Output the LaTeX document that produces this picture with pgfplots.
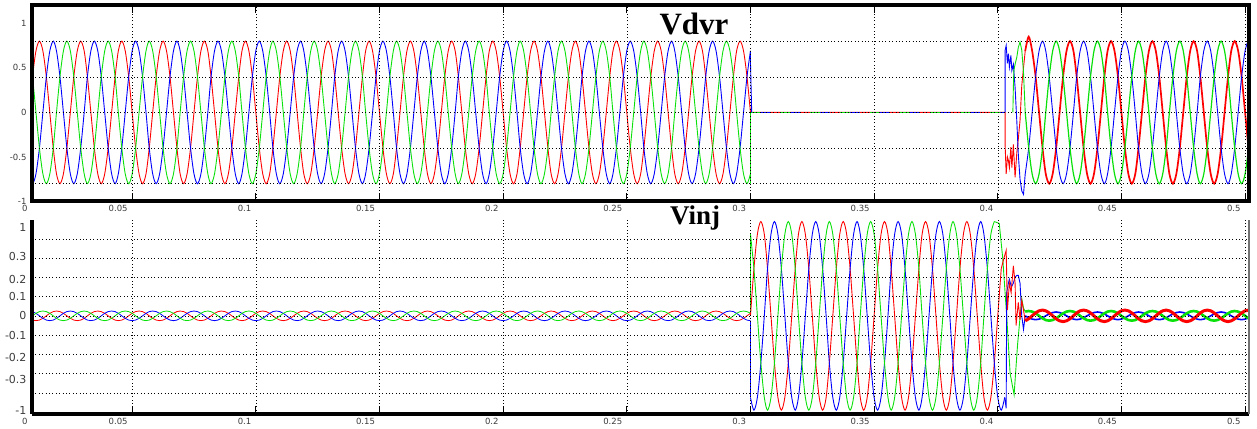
\documentclass[border=0pt]{standalone}
\usepackage{fontspec}
\setmainfont{DejaVu Sans}
\newfontfamily\titlefont{Liberation Serif}
\usepackage{pgfplots}
\pgfplotsset{compat=1.18}
\usepackage{pgfplotstable}

\definecolor{pr}{RGB}{255,0,0}
\definecolor{pb}{RGB}{0,0,255}
\definecolor{pg}{RGB}{10,225,10}
\definecolor{lbl}{RGB}{60,60,60}

% 0 - 0.3 s : Vdvr (r b g) and small Vinj ripple (ri bi gi)
\pgfplotstableread{
t r b g ri bi gi
0.0000 0 0.69 -0.69 0.013 -0.025 0.013
0.0014 -0.4 0.8 -0.4 0.022 -0.022 0
0.0028 -0.69 0.69 0 0.025 -0.013 -0.013
0.0042 -0.8 0.4 0.4 0.022 0 -0.022
0.0056 -0.69 0 0.69 0.013 0.013 -0.025
0.0069 -0.4 -0.4 0.8 0 0.022 -0.022
0.0083 0 -0.69 0.69 -0.013 0.025 -0.013
0.0097 0.4 -0.8 0.4 -0.022 0.022 0
0.0111 0.69 -0.69 0 -0.025 0.013 0.013
0.0125 0.8 -0.4 -0.4 -0.022 0 0.022
0.0139 0.69 0 -0.69 -0.013 -0.013 0.025
0.0153 0.4 0.4 -0.8 0 -0.022 0.022
0.0167 0 0.69 -0.69 0.013 -0.025 0.013
0.0181 -0.4 0.8 -0.4 0.022 -0.022 0
0.0194 -0.69 0.69 0 0.025 -0.013 -0.013
0.0208 -0.8 0.4 0.4 0.022 0 -0.022
0.0222 -0.69 0 0.69 0.013 0.013 -0.025
0.0236 -0.4 -0.4 0.8 0 0.022 -0.022
0.0250 0 -0.69 0.69 -0.013 0.025 -0.013
0.0264 0.4 -0.8 0.4 -0.022 0.022 0
0.0278 0.69 -0.69 0 -0.025 0.013 0.013
0.0292 0.8 -0.4 -0.4 -0.022 0 0.022
0.0306 0.69 0 -0.69 -0.013 -0.013 0.025
0.0319 0.4 0.4 -0.8 0 -0.022 0.022
0.0333 0 0.69 -0.69 0.013 -0.025 0.013
0.0347 -0.4 0.8 -0.4 0.022 -0.022 0
0.0361 -0.69 0.69 0 0.025 -0.013 -0.013
0.0375 -0.8 0.4 0.4 0.022 0 -0.022
0.0389 -0.69 0 0.69 0.013 0.013 -0.025
0.0403 -0.4 -0.4 0.8 0 0.022 -0.022
0.0417 0 -0.69 0.69 -0.013 0.025 -0.013
0.0431 0.4 -0.8 0.4 -0.022 0.022 0
0.0444 0.69 -0.69 0 -0.025 0.013 0.013
0.0458 0.8 -0.4 -0.4 -0.022 0 0.022
0.0472 0.69 0 -0.69 -0.013 -0.013 0.025
0.0486 0.4 0.4 -0.8 0 -0.022 0.022
0.0500 0 0.69 -0.69 0.013 -0.025 0.013
0.0514 -0.4 0.8 -0.4 0.022 -0.022 0
0.0528 -0.69 0.69 0 0.025 -0.013 -0.013
0.0542 -0.8 0.4 0.4 0.022 0 -0.022
0.0556 -0.69 0 0.69 0.013 0.013 -0.025
0.0569 -0.4 -0.4 0.8 0 0.022 -0.022
0.0583 0 -0.69 0.69 -0.013 0.025 -0.013
0.0597 0.4 -0.8 0.4 -0.022 0.022 0
0.0611 0.69 -0.69 0 -0.025 0.013 0.013
0.0625 0.8 -0.4 -0.4 -0.022 0 0.022
0.0639 0.69 0 -0.69 -0.013 -0.013 0.025
0.0653 0.4 0.4 -0.8 0 -0.022 0.022
0.0667 0 0.69 -0.69 0.013 -0.025 0.013
0.0681 -0.4 0.8 -0.4 0.022 -0.022 0
0.0694 -0.69 0.69 0 0.025 -0.013 -0.013
0.0708 -0.8 0.4 0.4 0.022 0 -0.022
0.0722 -0.69 0 0.69 0.013 0.013 -0.025
0.0736 -0.4 -0.4 0.8 0 0.022 -0.022
0.0750 0 -0.69 0.69 -0.013 0.025 -0.013
0.0764 0.4 -0.8 0.4 -0.022 0.022 0
0.0778 0.69 -0.69 0 -0.025 0.013 0.013
0.0792 0.8 -0.4 -0.4 -0.022 0 0.022
0.0806 0.69 0 -0.69 -0.013 -0.013 0.025
0.0819 0.4 0.4 -0.8 0 -0.022 0.022
0.0833 0 0.69 -0.69 0.013 -0.025 0.013
0.0847 -0.4 0.8 -0.4 0.022 -0.022 0
0.0861 -0.69 0.69 0 0.025 -0.013 -0.013
0.0875 -0.8 0.4 0.4 0.022 0 -0.022
0.0889 -0.69 0 0.69 0.013 0.013 -0.025
0.0903 -0.4 -0.4 0.8 0 0.022 -0.022
0.0917 0 -0.69 0.69 -0.013 0.025 -0.013
0.0931 0.4 -0.8 0.4 -0.022 0.022 0
0.0944 0.69 -0.69 0 -0.025 0.013 0.013
0.0958 0.8 -0.4 -0.4 -0.022 0 0.022
0.0972 0.69 0 -0.69 -0.013 -0.013 0.025
0.0986 0.4 0.4 -0.8 0 -0.022 0.022
0.1000 0 0.69 -0.69 0.013 -0.025 0.013
0.1014 -0.4 0.8 -0.4 0.022 -0.022 0
0.1028 -0.69 0.69 0 0.025 -0.013 -0.013
0.1042 -0.8 0.4 0.4 0.022 0 -0.022
0.1056 -0.69 0 0.69 0.013 0.013 -0.025
0.1069 -0.4 -0.4 0.8 0 0.022 -0.022
0.1083 0 -0.69 0.69 -0.013 0.025 -0.013
0.1097 0.4 -0.8 0.4 -0.022 0.022 0
0.1111 0.69 -0.69 0 -0.025 0.013 0.013
0.1125 0.8 -0.4 -0.4 -0.022 0 0.022
0.1139 0.69 0 -0.69 -0.013 -0.013 0.025
0.1153 0.4 0.4 -0.8 0 -0.022 0.022
0.1167 0 0.69 -0.69 0.013 -0.025 0.013
0.1181 -0.4 0.8 -0.4 0.022 -0.022 0
0.1194 -0.69 0.69 0 0.025 -0.013 -0.013
0.1208 -0.8 0.4 0.4 0.022 0 -0.022
0.1222 -0.69 0 0.69 0.013 0.013 -0.025
0.1236 -0.4 -0.4 0.8 0 0.022 -0.022
0.1250 0 -0.69 0.69 -0.013 0.025 -0.013
0.1264 0.4 -0.8 0.4 -0.022 0.022 0
0.1278 0.69 -0.69 0 -0.025 0.013 0.013
0.1292 0.8 -0.4 -0.4 -0.022 0 0.022
0.1306 0.69 0 -0.69 -0.013 -0.013 0.025
0.1319 0.4 0.4 -0.8 0 -0.022 0.022
0.1333 0 0.69 -0.69 0.013 -0.025 0.013
0.1347 -0.4 0.8 -0.4 0.022 -0.022 0
0.1361 -0.69 0.69 0 0.025 -0.013 -0.013
0.1375 -0.8 0.4 0.4 0.022 0 -0.022
0.1389 -0.69 0 0.69 0.013 0.013 -0.025
0.1403 -0.4 -0.4 0.8 0 0.022 -0.022
0.1417 0 -0.69 0.69 -0.013 0.025 -0.013
0.1431 0.4 -0.8 0.4 -0.022 0.022 0
0.1444 0.69 -0.69 0 -0.025 0.013 0.013
0.1458 0.8 -0.4 -0.4 -0.022 0 0.022
0.1472 0.69 0 -0.69 -0.013 -0.013 0.025
0.1486 0.4 0.4 -0.8 0 -0.022 0.022
0.1500 0 0.69 -0.69 0.013 -0.025 0.013
0.1514 -0.4 0.8 -0.4 0.022 -0.022 0
0.1528 -0.69 0.69 0 0.025 -0.013 -0.013
0.1542 -0.8 0.4 0.4 0.022 0 -0.022
0.1556 -0.69 0 0.69 0.013 0.013 -0.025
0.1569 -0.4 -0.4 0.8 0 0.022 -0.022
0.1583 0 -0.69 0.69 -0.013 0.025 -0.013
0.1597 0.4 -0.8 0.4 -0.022 0.022 0
0.1611 0.69 -0.69 0 -0.025 0.013 0.013
0.1625 0.8 -0.4 -0.4 -0.022 0 0.022
0.1639 0.69 0 -0.69 -0.013 -0.013 0.025
0.1653 0.4 0.4 -0.8 0 -0.022 0.022
0.1667 0 0.69 -0.69 0.013 -0.025 0.013
0.1681 -0.4 0.8 -0.4 0.022 -0.022 0
0.1694 -0.69 0.69 0 0.025 -0.013 -0.013
0.1708 -0.8 0.4 0.4 0.022 0 -0.022
0.1722 -0.69 0 0.69 0.013 0.013 -0.025
0.1736 -0.4 -0.4 0.8 0 0.022 -0.022
0.1750 0 -0.69 0.69 -0.013 0.025 -0.013
0.1764 0.4 -0.8 0.4 -0.022 0.022 0
0.1778 0.69 -0.69 0 -0.025 0.013 0.013
0.1792 0.8 -0.4 -0.4 -0.022 0 0.022
0.1806 0.69 0 -0.69 -0.013 -0.013 0.025
0.1819 0.4 0.4 -0.8 0 -0.022 0.022
0.1833 0 0.69 -0.69 0.013 -0.025 0.013
0.1847 -0.4 0.8 -0.4 0.022 -0.022 0
0.1861 -0.69 0.69 0 0.025 -0.013 -0.013
0.1875 -0.8 0.4 0.4 0.022 0 -0.022
0.1889 -0.69 0 0.69 0.013 0.013 -0.025
0.1903 -0.4 -0.4 0.8 0 0.022 -0.022
0.1917 0 -0.69 0.69 -0.013 0.025 -0.013
0.1931 0.4 -0.8 0.4 -0.022 0.022 0
0.1944 0.69 -0.69 0 -0.025 0.013 0.013
0.1958 0.8 -0.4 -0.4 -0.022 0 0.022
0.1972 0.69 0 -0.69 -0.013 -0.013 0.025
0.1986 0.4 0.4 -0.8 0 -0.022 0.022
0.2000 0 0.69 -0.69 0.013 -0.025 0.013
0.2014 -0.4 0.8 -0.4 0.022 -0.022 0
0.2028 -0.69 0.69 0 0.025 -0.013 -0.013
0.2042 -0.8 0.4 0.4 0.022 0 -0.022
0.2056 -0.69 0 0.69 0.013 0.013 -0.025
0.2069 -0.4 -0.4 0.8 0 0.022 -0.022
0.2083 0 -0.69 0.69 -0.013 0.025 -0.013
0.2097 0.4 -0.8 0.4 -0.022 0.022 0
0.2111 0.69 -0.69 0 -0.025 0.013 0.013
0.2125 0.8 -0.4 -0.4 -0.022 0 0.022
0.2139 0.69 0 -0.69 -0.013 -0.013 0.025
0.2153 0.4 0.4 -0.8 0 -0.022 0.022
0.2167 0 0.69 -0.69 0.013 -0.025 0.013
0.2181 -0.4 0.8 -0.4 0.022 -0.022 0
0.2194 -0.69 0.69 0 0.025 -0.013 -0.013
0.2208 -0.8 0.4 0.4 0.022 0 -0.022
0.2222 -0.69 0 0.69 0.013 0.013 -0.025
0.2236 -0.4 -0.4 0.8 0 0.022 -0.022
0.2250 0 -0.69 0.69 -0.013 0.025 -0.013
0.2264 0.4 -0.8 0.4 -0.022 0.022 0
0.2278 0.69 -0.69 0 -0.025 0.013 0.013
0.2292 0.8 -0.4 -0.4 -0.022 0 0.022
0.2306 0.69 0 -0.69 -0.013 -0.013 0.025
0.2319 0.4 0.4 -0.8 0 -0.022 0.022
0.2333 0 0.69 -0.69 0.013 -0.025 0.013
0.2347 -0.4 0.8 -0.4 0.022 -0.022 0
0.2361 -0.69 0.69 0 0.025 -0.013 -0.013
0.2375 -0.8 0.4 0.4 0.022 0 -0.022
0.2389 -0.69 0 0.69 0.013 0.013 -0.025
0.2403 -0.4 -0.4 0.8 0 0.022 -0.022
0.2417 0 -0.69 0.69 -0.013 0.025 -0.013
0.2431 0.4 -0.8 0.4 -0.022 0.022 0
0.2444 0.69 -0.69 0 -0.025 0.013 0.013
0.2458 0.8 -0.4 -0.4 -0.022 0 0.022
0.2472 0.69 0 -0.69 -0.013 -0.013 0.025
0.2486 0.4 0.4 -0.8 0 -0.022 0.022
0.2500 0 0.69 -0.69 0.013 -0.025 0.013
0.2514 -0.4 0.8 -0.4 0.022 -0.022 0
0.2528 -0.69 0.69 0 0.025 -0.013 -0.013
0.2542 -0.8 0.4 0.4 0.022 0 -0.022
0.2556 -0.69 0 0.69 0.013 0.013 -0.025
0.2569 -0.4 -0.4 0.8 0 0.022 -0.022
0.2583 0 -0.69 0.69 -0.013 0.025 -0.013
0.2597 0.4 -0.8 0.4 -0.022 0.022 0
0.2611 0.69 -0.69 0 -0.025 0.013 0.013
0.2625 0.8 -0.4 -0.4 -0.022 0 0.022
0.2639 0.69 0 -0.69 -0.013 -0.013 0.025
0.2653 0.4 0.4 -0.8 0 -0.022 0.022
0.2667 0 0.69 -0.69 0.013 -0.025 0.013
0.2681 -0.4 0.8 -0.4 0.022 -0.022 0
0.2694 -0.69 0.69 0 0.025 -0.013 -0.013
0.2708 -0.8 0.4 0.4 0.022 0 -0.022
0.2722 -0.69 0 0.69 0.013 0.013 -0.025
0.2736 -0.4 -0.4 0.8 0 0.022 -0.022
0.2750 0 -0.69 0.69 -0.013 0.025 -0.013
0.2764 0.4 -0.8 0.4 -0.022 0.022 0
0.2778 0.69 -0.69 0 -0.025 0.013 0.013
0.2792 0.8 -0.4 -0.4 -0.022 0 0.022
0.2806 0.69 0 -0.69 -0.013 -0.013 0.025
0.2819 0.4 0.4 -0.8 0 -0.022 0.022
0.2833 0 0.69 -0.69 0.013 -0.025 0.013
0.2847 -0.4 0.8 -0.4 0.022 -0.022 0
0.2861 -0.69 0.69 0 0.025 -0.013 -0.013
0.2875 -0.8 0.4 0.4 0.022 0 -0.022
0.2889 -0.69 0 0.69 0.013 0.013 -0.025
0.2903 -0.4 -0.4 0.8 0 0.022 -0.022
0.2917 0 -0.69 0.69 -0.013 0.025 -0.013
0.2931 0.4 -0.8 0.4 -0.022 0.022 0
0.2944 0.69 -0.69 0 -0.025 0.013 0.013
0.2958 0.8 -0.4 -0.4 -0.022 0 0.022
0.2972 0.69 0 -0.69 -0.013 -0.013 0.025
0.2986 0.4 0.4 -0.8 0 -0.022 0.022
0.3000 0 0.69 -0.69 0.013 -0.025 0.013
}\tabA

% 0.3 - 0.403 s : injected voltage
\pgfplotstableread{
t r b g
0.3000 0 -0.424 0.424
0.3014 0.245 -0.49 0.245
0.3028 0.424 -0.424 0
0.3042 0.49 -0.245 -0.245
0.3056 0.424 0 -0.424
0.3069 0.245 0.245 -0.49
0.3083 0 0.424 -0.424
0.3097 -0.245 0.49 -0.245
0.3111 -0.424 0.424 0
0.3125 -0.49 0.245 0.245
0.3139 -0.424 0 0.424
0.3153 -0.245 -0.245 0.49
0.3167 0 -0.424 0.424
0.3181 0.245 -0.49 0.245
0.3194 0.424 -0.424 0
0.3208 0.49 -0.245 -0.245
0.3222 0.424 0 -0.424
0.3236 0.245 0.245 -0.49
0.3250 0 0.424 -0.424
0.3264 -0.245 0.49 -0.245
0.3278 -0.424 0.424 0
0.3292 -0.49 0.245 0.245
0.3306 -0.424 0 0.424
0.3319 -0.245 -0.245 0.49
0.3333 0 -0.424 0.424
0.3347 0.245 -0.49 0.245
0.3361 0.424 -0.424 0
0.3375 0.49 -0.245 -0.245
0.3389 0.424 0 -0.424
0.3403 0.245 0.245 -0.49
0.3417 0 0.424 -0.424
0.3431 -0.245 0.49 -0.245
0.3444 -0.424 0.424 0
0.3458 -0.49 0.245 0.245
0.3472 -0.424 0 0.424
0.3486 -0.245 -0.245 0.49
0.3500 0 -0.424 0.424
0.3514 0.245 -0.49 0.245
0.3528 0.424 -0.424 0
0.3542 0.49 -0.245 -0.245
0.3556 0.424 0 -0.424
0.3569 0.245 0.245 -0.49
0.3583 0 0.424 -0.424
0.3597 -0.245 0.49 -0.245
0.3611 -0.424 0.424 0
0.3625 -0.49 0.245 0.245
0.3639 -0.424 0 0.424
0.3653 -0.245 -0.245 0.49
0.3667 0 -0.424 0.424
0.3681 0.245 -0.49 0.245
0.3694 0.424 -0.424 0
0.3708 0.49 -0.245 -0.245
0.3722 0.424 0 -0.424
0.3736 0.245 0.245 -0.49
0.3750 0 0.424 -0.424
0.3764 -0.245 0.49 -0.245
0.3778 -0.424 0.424 0
0.3792 -0.49 0.245 0.245
0.3806 -0.424 0 0.424
0.3819 -0.245 -0.245 0.49
0.3833 0 -0.424 0.424
0.3847 0.245 -0.49 0.245
0.3861 0.424 -0.424 0
0.3875 0.49 -0.245 -0.245
0.3889 0.424 0 -0.424
0.3903 0.245 0.245 -0.49
0.3917 0 0.424 -0.424
0.3931 -0.245 0.49 -0.245
0.3944 -0.424 0.424 0
0.3958 -0.49 0.245 0.245
0.3972 -0.424 0 0.424
0.3986 -0.245 -0.245 0.49
0.4000 0 -0.424 0.424
0.4014 0.245 -0.49 0.245
0.4028 0.424 -0.424 0
}\tabB

% 0.411 - 0.5 s : restored Vdvr and residual Vinj
\pgfplotstableread{
t r b g ri bi gi
0.4111 0.69 -0.69 0 -0.026 0 0.022
0.4125 0.85 -0.4 -0.4 -0.015 -0.01 0.025
0.4139 0.69 0 -0.69 0 -0.017 0.022
0.4153 0.4 0.4 -0.8 0.015 -0.02 0.013
0.4167 0 0.69 -0.69 0.026 -0.017 0
0.4181 -0.4 0.8 -0.4 0.03 -0.01 -0.013
0.4194 -0.69 0.69 0 0.026 0 -0.022
0.4208 -0.8 0.4 0.4 0.015 0.01 -0.025
0.4222 -0.69 0 0.69 0 0.017 -0.022
0.4236 -0.4 -0.4 0.8 -0.015 0.02 -0.013
0.4250 0 -0.69 0.69 -0.026 0.017 0
0.4264 0.4 -0.8 0.4 -0.03 0.01 0.013
0.4278 0.69 -0.69 0 -0.026 0 0.022
0.4292 0.8 -0.4 -0.4 -0.015 -0.01 0.025
0.4306 0.69 0 -0.69 0 -0.017 0.022
0.4319 0.4 0.4 -0.8 0.015 -0.02 0.013
0.4333 0 0.69 -0.69 0.026 -0.017 0
0.4347 -0.4 0.8 -0.4 0.03 -0.01 -0.013
0.4361 -0.69 0.69 0 0.026 0 -0.022
0.4375 -0.8 0.4 0.4 0.015 0.01 -0.025
0.4389 -0.69 0 0.69 0 0.017 -0.022
0.4403 -0.4 -0.4 0.8 -0.015 0.02 -0.013
0.4417 0 -0.69 0.69 -0.026 0.017 0
0.4431 0.4 -0.8 0.4 -0.03 0.01 0.013
0.4444 0.69 -0.69 0 -0.026 0 0.022
0.4458 0.8 -0.4 -0.4 -0.015 -0.01 0.025
0.4472 0.69 0 -0.69 0 -0.017 0.022
0.4486 0.4 0.4 -0.8 0.015 -0.02 0.013
0.4500 0 0.69 -0.69 0.026 -0.017 0
0.4514 -0.4 0.8 -0.4 0.03 -0.01 -0.013
0.4528 -0.69 0.69 0 0.026 0 -0.022
0.4542 -0.8 0.4 0.4 0.015 0.01 -0.025
0.4556 -0.69 0 0.69 0 0.017 -0.022
0.4569 -0.4 -0.4 0.8 -0.015 0.02 -0.013
0.4583 0 -0.69 0.69 -0.026 0.017 0
0.4597 0.4 -0.8 0.4 -0.03 0.01 0.013
0.4611 0.69 -0.69 0 -0.026 0 0.022
0.4625 0.8 -0.4 -0.4 -0.015 -0.01 0.025
0.4639 0.69 0 -0.69 0 -0.017 0.022
0.4653 0.4 0.4 -0.8 0.015 -0.02 0.013
0.4667 0 0.69 -0.69 0.026 -0.017 0
0.4681 -0.4 0.8 -0.4 0.03 -0.01 -0.013
0.4694 -0.69 0.69 0 0.026 0 -0.022
0.4708 -0.8 0.4 0.4 0.015 0.01 -0.025
0.4722 -0.69 0 0.69 0 0.017 -0.022
0.4736 -0.4 -0.4 0.8 -0.015 0.02 -0.013
0.4750 0 -0.69 0.69 -0.026 0.017 0
0.4764 0.4 -0.8 0.4 -0.03 0.01 0.013
0.4778 0.69 -0.69 0 -0.026 0 0.022
0.4792 0.8 -0.4 -0.4 -0.015 -0.01 0.025
0.4806 0.69 0 -0.69 0 -0.017 0.022
0.4819 0.4 0.4 -0.8 0.015 -0.02 0.013
0.4833 0 0.69 -0.69 0.026 -0.017 0
0.4847 -0.4 0.8 -0.4 0.03 -0.01 -0.013
0.4861 -0.69 0.69 0 0.026 0 -0.022
0.4875 -0.8 0.4 0.4 0.015 0.01 -0.025
0.4889 -0.69 0 0.69 0 0.017 -0.022
0.4903 -0.4 -0.4 0.8 -0.015 0.02 -0.013
0.4917 0 -0.69 0.69 -0.026 0.017 0
0.4931 0.4 -0.8 0.4 -0.03 0.01 0.013
0.4944 0.69 -0.69 0 -0.026 0 0.022
0.4958 0.8 -0.4 -0.4 -0.015 -0.01 0.025
0.4972 0.69 0 -0.69 0 -0.017 0.022
0.4986 0.4 0.4 -0.8 0.015 -0.02 0.013
0.5000 0 0.69 -0.69 0.026 -0.017 0
0.5014 -0.4 0.8 -0.4 0.03 -0.01 -0.013
0.5028 -0.69 0.69 0 0.026 0 -0.022
}\tabC

\pgfplotsset{
  panel/.style={
    scale only axis, width=1217pt,
    xmin=0.0095, xmax=0.5016,
    xtick={0.0095,0.05,0.1,0.15,0.2,0.25,0.3,0.35,0.4,0.45,0.5},
    xticklabels={0,0.05,0.1,0.15,0.2,0.25,0.3,0.35,0.4,0.45,0.5},
    xmajorgrids, yminorgrids,
    grid style={black, line width=0.5pt, dash pattern=on 0.8pt off 2.6pt},
    minor grid style={black, line width=0.5pt, dash pattern=on 0.8pt off 2.6pt},
    tick align=inside, major tick length=8pt, minor tick length=0pt,
    xtick style={black, line width=1pt}, ytick style={draw=none},
    xticklabel style={font=\fontsize{8.5}{9}\selectfont, text=lbl, anchor=north east, xshift=-1pt},
    every axis plot/.append style={line width=0.9pt},
    axis on top,
  },
}

\begin{document}
\begin{tikzpicture}
\path[use as bounding box] (0pt,0pt) rectangle (1257pt,428pt);

% ---- Vdvr ----
\begin{axis}[panel, at={(32pt,226.5pt)}, anchor=south west, height=196pt,
  ymin=-1, ymax=1.2,
  ytick={-1,-0.5,0,0.5,1}, yticklabels={-1,-0.5,0,0.5,1},
  minor ytick={-0.8,-0.4,0,0.4,0.8},
  yticklabel style={font=\fontsize{8.5}{9}\selectfont, text=lbl, xshift=-2pt},
  axis line style={black, line width=4pt},
]
\addplot[pr, smooth] table[x=t,y=r]{\tabA};
\addplot[pb, smooth] table[x=t,y=b]{\tabA};
\addplot[pg, smooth] table[x=t,y=g]{\tabA};
% sag: output held at zero, then restoration transient
\addplot[pr, sharp plot] coordinates {(0.3,0) (0.403,0) (0.403,-0.39) (0.4034,-0.69) (0.4039,-0.5)
  (0.4043,-0.54) (0.4047,-0.62) (0.4053,-0.39) (0.4057,-0.62) (0.4063,-0.36) (0.407,-0.73)
  (0.4077,-0.45) (0.4083,-0.3) (0.409,-0.09) (0.4097,0.3) (0.4104,0.5) (0.4111,0.69)};
\addplot[pg, sharp plot, dash pattern=on 10pt off 20pt] coordinates {(0.3,0) (0.4061,0)};
\addplot[pb, sharp plot, dash pattern=on 10pt off 20pt, dash phase=20pt] coordinates {(0.3,0) (0.403,0)};
\addplot[pb, sharp plot] coordinates {(0.3,0.69) (0.3,0.57) (0.3005,0)};
\addplot[pg, sharp plot] coordinates {(0.3,-0.69) (0.3,-0.8) (0.3,0)};
\addplot[pb, sharp plot] coordinates {(0.403,0) (0.403,0.7) (0.4034,0.75) (0.4039,0.55) (0.4043,0.66)
  (0.4047,0.51) (0.4053,0.64) (0.4057,0.47) (0.4063,0.54) (0.407,0.28) (0.4077,-0.1)
  (0.4083,-0.47) (0.409,-0.75) (0.4097,-0.88) (0.4104,-0.92) (0.4111,-0.69)};
\addplot[pg, sharp plot] coordinates {(0.4061,0) (0.4063,0.28) (0.4065,0.47) (0.407,0.54)
  (0.4077,0.62) (0.4083,0.73) (0.409,0.79) (0.4097,0.7) (0.4104,0.45) (0.4111,0)};
\addplot[pr, smooth, line width=1.7pt] table[x=t,y=r]{\tabC};
\addplot[pb, smooth] table[x=t,y=b]{\tabC};
\addplot[pg, smooth, line width=1.2pt] table[x=t,y=g]{\tabC};
\end{axis}

% ---- Vinj ----
\begin{axis}[panel, at={(32pt,14pt)}, anchor=south west, height=194.4pt,
  ymin=-0.51, ymax=0.5,
  ytick={-0.49,-0.33,-0.215,-0.1,0,0.1,0.19,0.31,0.46},
  yticklabels={-1,-0.3,-0.2,-0.1,0,0.1,0.2,0.3,1},
  minor ytick={-0.4,-0.3,-0.2,-0.1,0,0.1,0.2,0.3,0.4},
  yticklabel style={font=\fontsize{11}{12}\selectfont, text=lbl, xshift=-2pt},
  axis x line*=bottom, axis y line*=left,
  axis line style={black, line width=4pt},
  xticklabel style={yshift=-1pt},
  after end axis/.code={\draw[black!55, line width=1.2pt] (rel axis cs:1,0) -- (rel axis cs:1,1);},
]
\addplot[pr, smooth, line width=0.8pt] table[x=t,y=ri]{\tabA};
\addplot[pb, smooth, line width=0.8pt] table[x=t,y=bi]{\tabA};
\addplot[pg, smooth, line width=0.8pt] table[x=t,y=gi]{\tabA};
\addplot[pg, sharp plot] coordinates {(0.3,0.013) (0.3,0.424)};
\addplot[pb, sharp plot] coordinates {(0.3,-0.025) (0.3,-0.424)};
\addplot[pr, smooth, restrict x to domain=0.29:0.4015] table[x=t,y=r]{\tabB};
\addplot[pb, smooth, restrict x to domain=0.29:0.4029] table[x=t,y=b]{\tabB};
\addplot[pg, smooth, restrict x to domain=0.29:0.3987] table[x=t,y=g]{\tabB};
% restoration transient
\addplot[pg, sharp plot] coordinates {(0.3986,0.49) (0.4006,0.48) (0.402,0.3) (0.4036,0)
  (0.405,-0.3) (0.4066,-0.41) (0.408,-0.15) (0.4097,0.09) (0.4104,0.04) (0.4111,0.022)};
\addplot[pb, sharp plot] coordinates {(0.4028,-0.424) (0.4034,-0.48) (0.4036,0.12) (0.4043,0.17)
  (0.4047,0.19) (0.4055,0.15) (0.4063,0.17) (0.407,0.2) (0.4077,0.21) (0.4083,0.21)
  (0.409,0.17) (0.4097,0) (0.4104,-0.07) (0.4111,0)};
\addplot[pr, sharp plot] coordinates {(0.4014,0.245) (0.4025,0.3) (0.4034,0.34) (0.4039,0.03)
  (0.4047,0.17) (0.4054,0.12) (0.4063,0.26) (0.407,0.17) (0.4074,-0.05) (0.4083,0.07)
  (0.409,-0.02) (0.4097,0.08) (0.4104,0.03) (0.4111,-0.026)};
\addplot[pb, smooth, line width=1.6pt] table[x=t,y=bi]{\tabC};
\addplot[pg, smooth, line width=2.6pt] table[x=t,y=gi]{\tabC};
\addplot[pr, smooth, line width=3pt] table[x=t,y=ri]{\tabC};
\end{axis}

\node[font=\titlefont\bfseries\fontsize{31}{31}\selectfont] at (694pt,404pt) {Vdvr};
\node[font=\titlefont\bfseries\fontsize{27}{27}\selectfont] at (695pt,210pt) {Vinj};
\end{tikzpicture}
\end{document}
